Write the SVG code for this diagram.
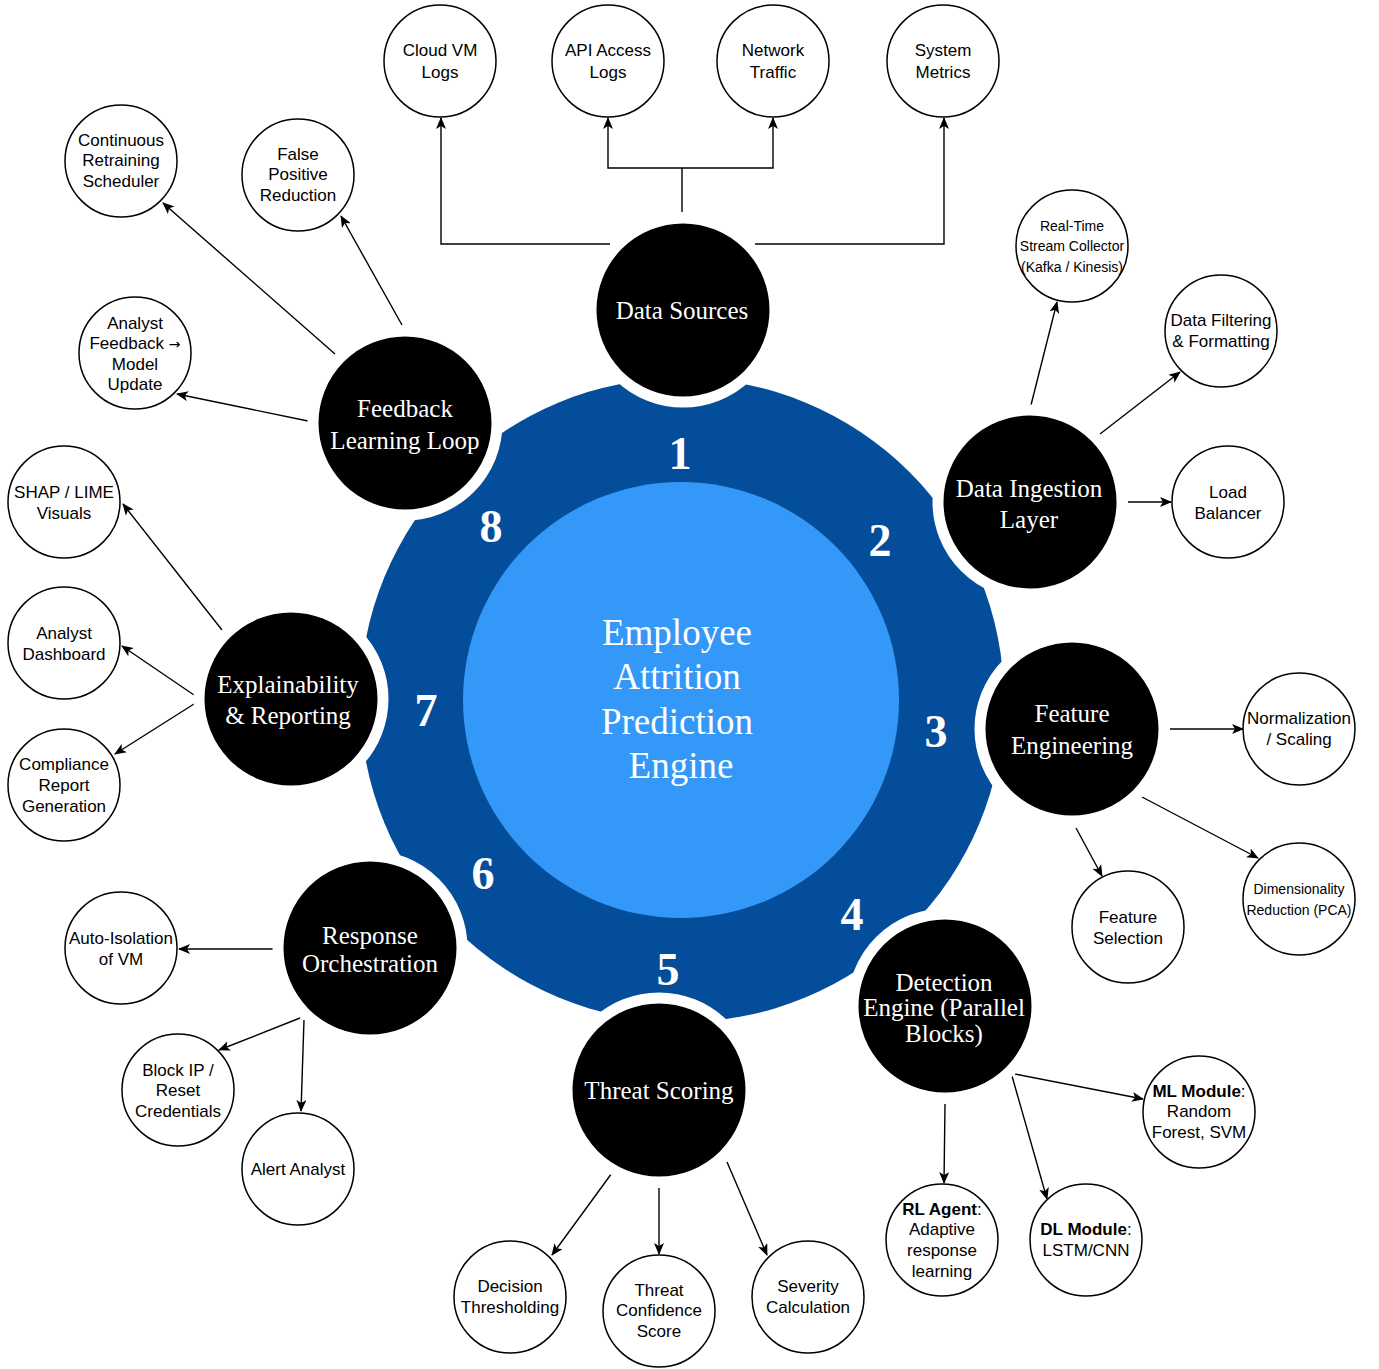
<svg xmlns="http://www.w3.org/2000/svg" width="1379" height="1369" viewBox="0 0 1379 1369">
<style>
.bg{fill:#ffffff}
.ring{fill:#044d9b}
.core{fill:#3498f8}
.hub{fill:#000000;stroke:#ffffff;stroke-width:11}
.leaf{fill:#ffffff;stroke:#000000;stroke-width:1.5}
.ht{font-family:"Liberation Serif","Times New Roman",serif;font-size:25px;fill:#ffffff;text-anchor:middle}
.ct{font-family:"Liberation Serif","Times New Roman",serif;font-size:37px;fill:#ffffff;text-anchor:middle}
.num{font-family:"Liberation Serif","Times New Roman",serif;font-size:46px;font-weight:bold;fill:#ffffff;text-anchor:middle}
.lt{font-family:"Liberation Sans",Arial,sans-serif;font-size:17px;fill:#000000;text-anchor:middle}
.st{font-family:"Liberation Sans",Arial,sans-serif;font-size:14px;fill:#000000;text-anchor:middle}
.ar{font-family:"DejaVu Sans",sans-serif;font-size:14px}
.b{font-weight:bold}
.con{fill:none;stroke:#000000;stroke-width:1.4;marker-end:url(#arr)}
.conn{fill:none;stroke:#000000;stroke-width:1.4}
</style>
<defs>
<marker id="arr" viewBox="0 0 12 10" refX="11" refY="5" markerWidth="12" markerHeight="10" markerUnits="userSpaceOnUse" orient="auto">
<path d="M0,0 L12,5 L0,10 L3,5 Z" fill="#000000"/>
</marker>
</defs>
<rect class="bg" x="0" y="0" width="1379" height="1369"/>

<g id="ring">
<circle class="ring" cx="682" cy="700" r="322"/>
<circle class="core" cx="681" cy="700" r="218"/>
<text class="ct" x="677" y="645">Employee</text>
<text class="ct" x="677" y="689">Attrition</text>
<text class="ct" x="677" y="734">Prediction</text>
<text class="ct" x="681" y="778">Engine</text>
<text class="num" x="680" y="469">1</text>
<text class="num" x="880" y="556">2</text>
<text class="num" x="936" y="747">3</text>
<text class="num" x="852" y="930">4</text>
<text class="num" x="668" y="985">5</text>
<text class="num" x="483" y="889">6</text>
<text class="num" x="426" y="726">7</text>
<text class="num" x="491" y="542">8</text>
</g>

<g id="connectors">
<polyline class="conn" points="682,212 682,168"/>
<polyline class="con" points="682,168 608,168 608,118"/>
<polyline class="con" points="682,168 773,168 773,118"/>
<polyline class="con" points="610,244 441,244 441,118"/>
<polyline class="con" points="755,244 944,244 944,118"/>
<line class="con" x1="1031" y1="405" x2="1057" y2="302"/>
<line class="con" x1="1100" y1="434" x2="1180" y2="372"/>
<line class="con" x1="1128" y1="502" x2="1171" y2="502"/>
<line class="con" x1="1170" y1="729" x2="1243" y2="729"/>
<line class="con" x1="1142" y1="797" x2="1258" y2="858"/>
<line class="con" x1="1076" y1="828" x2="1102" y2="876"/>
<line class="con" x1="1015" y1="1074" x2="1143" y2="1099"/>
<line class="con" x1="1012" y1="1076" x2="1047" y2="1199"/>
<line class="con" x1="945" y1="1104" x2="944" y2="1183"/>
<line class="con" x1="620" y1="1162" x2="552" y2="1255"/>
<line class="con" x1="659" y1="1188" x2="659" y2="1254"/>
<line class="con" x1="727" y1="1162" x2="767" y2="1255"/>
<line class="con" x1="273" y1="949" x2="179" y2="949"/>
<line class="con" x1="300" y1="1018" x2="219" y2="1050"/>
<line class="con" x1="304" y1="1020" x2="301" y2="1111"/>
<line class="con" x1="222" y1="630" x2="123" y2="504"/>
<line class="con" x1="194" y1="695" x2="122" y2="646"/>
<line class="con" x1="194" y1="704" x2="115" y2="754"/>
<line class="con" x1="308" y1="421" x2="177" y2="394"/>
<line class="con" x1="335" y1="354" x2="163" y2="203"/>
<line class="con" x1="402" y1="325" x2="341" y2="216"/>
</g>

<g id="hub-data-sources"><circle class="hub" cx="683" cy="310" r="92"/><text class="ht" x="682" y="319">Data Sources</text></g>
<g id="hub-data-ingestion"><circle class="hub" cx="1030" cy="502" r="92"/><text class="ht" x="1029" y="497">Data Ingestion</text><text class="ht" x="1029" y="528">Layer</text></g>
<g id="hub-feature-engineering"><circle class="hub" cx="1072" cy="729" r="92"/><text class="ht" x="1072" y="722">Feature</text><text class="ht" x="1072" y="754">Engineering</text></g>
<g id="hub-detection"><circle class="hub" cx="945" cy="1006" r="92"/><text class="ht" x="944" y="991">Detection</text><text class="ht" x="944" y="1016">Engine (Parallel</text><text class="ht" x="944" y="1042">Blocks)</text></g>
<g id="hub-threat-scoring"><circle class="hub" cx="659" cy="1090" r="92"/><text class="ht" x="659" y="1099">Threat Scoring</text></g>
<g id="hub-response"><circle class="hub" cx="370" cy="948" r="92"/><text class="ht" x="370" y="944">Response</text><text class="ht" x="370" y="972">Orchestration</text></g>
<g id="hub-explainability"><circle class="hub" cx="291" cy="699" r="92"/><text class="ht" x="288" y="693">Explainability</text><text class="ht" x="288" y="724">&amp; Reporting</text></g>
<g id="hub-feedback"><circle class="hub" cx="405" cy="423" r="92"/><text class="ht" x="405" y="417">Feedback</text><text class="ht" x="405" y="449">Learning Loop</text></g>

<g id="leaf-cloud-vm"><circle class="leaf" cx="440" cy="61" r="56"/><text class="lt" x="440" y="56">Cloud VM</text><text class="lt" x="440" y="78">Logs</text></g>
<g id="leaf-api"><circle class="leaf" cx="608" cy="61" r="56"/><text class="lt" x="608" y="56">API Access</text><text class="lt" x="608" y="78">Logs</text></g>
<g id="leaf-network"><circle class="leaf" cx="773" cy="61" r="56"/><text class="lt" x="773" y="56">Network</text><text class="lt" x="773" y="78">Traffic</text></g>
<g id="leaf-system"><circle class="leaf" cx="943" cy="61" r="56"/><text class="lt" x="943" y="56">System</text><text class="lt" x="943" y="78">Metrics</text></g>
<g id="leaf-retraining"><circle class="leaf" cx="121" cy="161" r="56"/><text class="lt" x="121" y="146">Continuous</text><text class="lt" x="121" y="166">Retraining</text><text class="lt" x="121" y="187">Scheduler</text></g>
<g id="leaf-false-positive"><circle class="leaf" cx="298" cy="175" r="56"/><text class="lt" x="298" y="160">False</text><text class="lt" x="298" y="180">Positive</text><text class="lt" x="298" y="201">Reduction</text></g>
<g id="leaf-analyst-feedback"><circle class="leaf" cx="135" cy="353" r="56"/><text class="lt" x="135" y="329">Analyst</text><text class="lt" x="135" y="349">Feedback <tspan class="ar">→</tspan></text><text class="lt" x="135" y="370">Model</text><text class="lt" x="135" y="390">Update</text></g>
<g id="leaf-stream"><circle class="leaf" cx="1072" cy="246" r="56"/><text class="st" x="1072" y="231">Real-Time</text><text class="st" x="1072" y="251">Stream Collector</text><text class="st" x="1072" y="272">(Kafka / Kinesis)</text></g>
<g id="leaf-filtering"><circle class="leaf" cx="1221" cy="331" r="56"/><text class="lt" x="1221" y="326">Data Filtering</text><text class="lt" x="1221" y="347">&amp; Formatting</text></g>
<g id="leaf-load-balancer"><circle class="leaf" cx="1228" cy="502" r="56"/><text class="lt" x="1228" y="498">Load</text><text class="lt" x="1228" y="519">Balancer</text></g>
<g id="leaf-shap"><circle class="leaf" cx="64" cy="502" r="56"/><text class="lt" x="64" y="498">SHAP / LIME</text><text class="lt" x="64" y="519">Visuals</text></g>
<g id="leaf-dashboard"><circle class="leaf" cx="64" cy="643" r="56"/><text class="lt" x="64" y="639">Analyst</text><text class="lt" x="64" y="660">Dashboard</text></g>
<g id="leaf-compliance"><circle class="leaf" cx="64" cy="785" r="56"/><text class="lt" x="64" y="770">Compliance</text><text class="lt" x="64" y="791">Report</text><text class="lt" x="64" y="812">Generation</text></g>
<g id="leaf-normalization"><circle class="leaf" cx="1299" cy="729" r="56"/><text class="lt" x="1299" y="724">Normalization</text><text class="lt" x="1299" y="745">/ Scaling</text></g>
<g id="leaf-pca"><circle class="leaf" cx="1299" cy="899" r="56"/><text class="st" x="1299" y="894">Dimensionality</text><text class="st" x="1299" y="915">Reduction (PCA)</text></g>
<g id="leaf-feature-selection"><circle class="leaf" cx="1128" cy="927" r="56"/><text class="lt" x="1128" y="923">Feature</text><text class="lt" x="1128" y="944">Selection</text></g>
<g id="leaf-auto-isolation"><circle class="leaf" cx="121" cy="948" r="56"/><text class="lt" x="121" y="944">Auto-Isolation</text><text class="lt" x="121" y="965">of VM</text></g>
<g id="leaf-block-ip"><circle class="leaf" cx="178" cy="1090" r="56"/><text class="lt" x="178" y="1076">Block IP /</text><text class="lt" x="178" y="1096">Reset</text><text class="lt" x="178" y="1117">Credentials</text></g>
<g id="leaf-alert"><circle class="leaf" cx="298" cy="1169" r="56"/><text class="lt" x="298" y="1175">Alert Analyst</text></g>
<g id="leaf-ml"><circle class="leaf" cx="1199" cy="1112" r="56"/><text class="lt" x="1199" y="1097"><tspan class="b">ML Module</tspan>:</text><text class="lt" x="1199" y="1117">Random</text><text class="lt" x="1199" y="1138">Forest, SVM</text></g>
<g id="leaf-rl"><circle class="leaf" cx="942" cy="1240" r="56"/><text class="lt" x="942" y="1215"><tspan class="b">RL Agent</tspan>:</text><text class="lt" x="942" y="1235">Adaptive</text><text class="lt" x="942" y="1256">response</text><text class="lt" x="942" y="1277">learning</text></g>
<g id="leaf-dl"><circle class="leaf" cx="1086" cy="1240" r="56"/><text class="lt" x="1086" y="1235"><tspan class="b">DL Module</tspan>:</text><text class="lt" x="1086" y="1256">LSTM/CNN</text></g>
<g id="leaf-decision"><circle class="leaf" cx="510" cy="1297" r="56"/><text class="lt" x="510" y="1292">Decision</text><text class="lt" x="510" y="1313">Thresholding</text></g>
<g id="leaf-confidence"><circle class="leaf" cx="659" cy="1311" r="56"/><text class="lt" x="659" y="1296">Threat</text><text class="lt" x="659" y="1316">Confidence</text><text class="lt" x="659" y="1337">Score</text></g>
<g id="leaf-severity"><circle class="leaf" cx="808" cy="1297" r="56"/><text class="lt" x="808" y="1292">Severity</text><text class="lt" x="808" y="1313">Calculation</text></g>
</svg>
